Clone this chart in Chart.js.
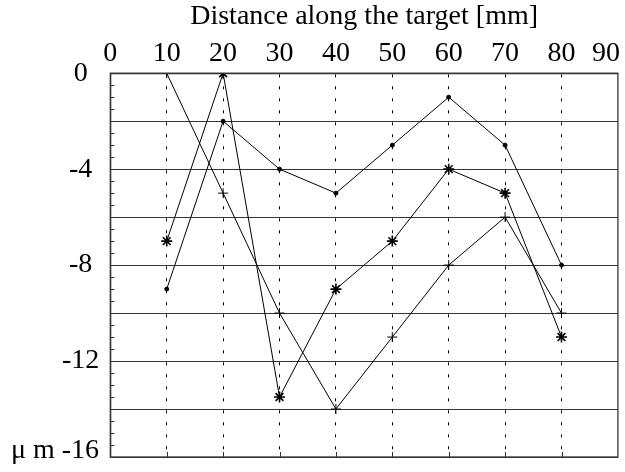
<!DOCTYPE html>
<html>
<head>
<meta charset="utf-8">
<script src="https://cdn.jsdelivr.net/npm/chart.js@4/dist/chart.umd.min.js"></script>
<style>
  body { margin: 0; background: #fff; }
  #wrap { width: 625px; height: 472px; }
</style>
</head>
<body>
<div id="wrap"><canvas id="chart"></canvas></div>
<script>
// distance along the target [mm]
const distances = [10, 20, 30, 40, 50, 60, 70, 80];
// depth in micrometres, one list per scan
const dotSeries = [-9, -2, -4, -5, -3, -1, -3, -8];
const plusSeries = [0, -5, -10, -14, -11, -8, -6, -10];
const starSeries = [-7, 0, -13.5, -9, -7, -4, -5, -11];
const yGridValues = [0, -2, -4, -6, -8, -10, -12, -14, -16];
const xTickStep = 10;

const serif = "'Liberation Serif', 'Times New Roman', serif";
const fontSize = 28;
Chart.defaults.font.family = serif;
Chart.defaults.color = '#000';

function toPoints(vals) {
  return distances.map((x, i) => ({ x: x, y: vals[i] }));
}

// box, minor ticks and the odd labels
const extras = {
  id: 'extras',
  afterDraw(chart) {
    const { ctx, chartArea: a, scales } = chart;
    const ys = scales.y, xs = scales.x;
    ctx.save();
    ctx.strokeStyle = '#333';
    ctx.lineWidth = 1.3;
    ctx.strokeRect(a.left, a.top, a.right - a.left, a.bottom - a.top);

    ctx.lineWidth = 1;
    ctx.beginPath();
    for (let v = -0.5; v > ys.min; v -= 0.5) {
      const py = Math.round(ys.getPixelForValue(v)) + 0.5;
      ctx.moveTo(a.left, py);
      ctx.lineTo(a.left + 4, py);
    }
    distances.forEach(d => {
      const px = Math.round(xs.getPixelForValue(d)) + 0.5;
      ctx.moveTo(px, a.bottom);
      ctx.lineTo(px, a.bottom - 5);
    });
    ctx.stroke();

    ctx.fillStyle = '#000';
    ctx.font = fontSize + 'px ' + serif;
    ctx.textBaseline = 'middle';
    ctx.textAlign = 'right';
    ctx.fillText('90', a.right + 2, a.top - 3 - fontSize * 0.6);
    ctx.fillText('\u03bc m -16', 99, a.bottom - 6);
    ctx.restore();
  }
};

new Chart(document.getElementById('chart'), {
  type: 'line',
  data: {
    datasets: [
      {
        data: toPoints(dotSeries),
        borderColor: '#000', borderWidth: 1,
        pointStyle: 'circle', pointRadius: 2,
        pointBackgroundColor: '#000', pointBorderColor: '#000'
      },
      {
        data: toPoints(plusSeries),
        borderColor: '#000', borderWidth: 1,
        pointStyle: 'cross', pointRadius: 5,
        pointBorderColor: '#000', pointBorderWidth: 1
      },
      {
        data: toPoints(starSeries),
        borderColor: '#000', borderWidth: 1,
        pointStyle: 'star', pointRadius: 5.5,
        pointBorderColor: '#000', pointBorderWidth: 1.6
      }
    ]
  },
  options: {
    responsive: true,
    maintainAspectRatio: false,
    animation: false,
    layout: { padding: { left: 51, right: 7, top: 0, bottom: 15 } },
    plugins: {
      legend: { display: false },
      tooltip: { enabled: false },
      title: {
        display: true,
        fullSize: false,
        text: 'Distance along the target [mm]',
        color: '#000',
        font: { size: fontSize, weight: 'normal' },
        padding: { top: 0, bottom: 0 }
      }
    },
    scales: {
      x: {
        type: 'linear',
        position: 'top',
        min: 0,
        max: 90,
        ticks: {
          stepSize: xTickStep,
          padding: 3,
          font: { size: fontSize },
          callback: v => (v === 90 ? '' : String(v))
        },
        grid: {
          drawTicks: false,
          color: ctx => (ctx.tick && (ctx.tick.value === 0 || ctx.tick.value === 90)) ? 'rgba(0,0,0,0)' : '#000',
          lineWidth: 1
        },
        border: { color: '#333', width: 1.3, dash: [3, 9] }
      },
      y: {
        type: 'linear',
        min: -16,
        max: 0,
        afterBuildTicks: axis => { axis.ticks = yGridValues.map(v => ({ value: v })); },
        afterFit: axis => { axis.paddingBottom = 0; },
        ticks: {
          padding: 11,
          crossAlign: 'center',
          font: { size: fontSize },
          callback: v => (v % 4 === 0 && v !== -16 ? String(v) : '')
        },
        grid: {
          drawTicks: false,
          color: '#333',
          lineWidth: 1
        },
        border: { color: '#333', width: 1.3 }
      }
    }
  },
  plugins: [extras]
});
</script>
</body>
</html>
